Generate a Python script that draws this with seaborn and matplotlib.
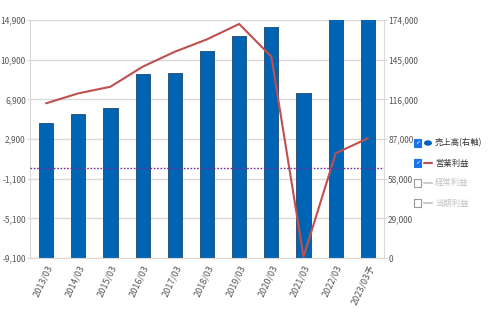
import matplotlib
matplotlib.use("Agg")
import matplotlib.pyplot as plt
import seaborn as sns
import numpy as np
import pandas as pd
from matplotlib.patches import Rectangle, Circle
from matplotlib.lines import Line2D

categories = ["2013/03", "2014/03", "2015/03", "2016/03", "2017/03", "2018/03",
              "2019/03", "2020/03", "2021/03", "2022/03", "2023/03予"]
sales = [98900, 105000, 109900, 134300, 135500, 151300, 162500, 168600, 120900, 176000, 176000]
op_profit = [6500, 7500, 8170, 10190, 11700, 12950, 14500, 11200, -8970, 1460, 2970]
left_ticks = [-9100, -5100, -1100, 2900, 6900, 10900, 14900]
right_ticks = [0, 29000, 58000, 87000, 116000, 145000, 174000]
legend_labels = ["売上高(右軸)", "営業利益", "経常利益", "当期利益"]

sns.set_style("white")
plt.rcParams['font.family'] = ['Noto Sans CJK JP', 'DejaVu Sans']
narrow = ['Liberation Sans Narrow', 'Noto Sans CJK JP', 'DejaVu Sans']

df = pd.DataFrame({"cat": categories, "sales": sales, "op": op_profit})

fig = plt.figure(figsize=(4.9, 3.36), dpi=100)
ax = fig.add_axes([30/490, 1-258/336, (384-30)/490, (258-20)/336])

bar_color = "#0064B4"
line_color = "#C0504D"
tick_color = "#555555"
grid_color = "#d9d9d9"

sns.barplot(data=df, x="cat", y="sales", ax=ax, color=bar_color, width=0.44,
            edgecolor="#23466e", linewidth=0.6, saturation=1, zorder=2)
ax.set_ylim(0, 174000)
ax.set_xlim(-0.5, len(categories) - 0.5)
ax.set_xlabel("")
ax.set_ylabel("")
for y in right_ticks:
    ax.axhline(y, color=grid_color, lw=1.0, zorder=1)

ax2 = ax.twinx()
sns.pointplot(data=df, x="cat", y="op", ax=ax2, color=line_color, markers="",
              linewidth=1.5, errorbar=None)
ax2.set_ylim(-9100, 14900)
ax2.set_xlim(-0.5, len(categories) - 0.5)
ax2.set_xlabel("")
ax2.set_ylabel("")
ax2.axhline(0, color="#7030A0", lw=1.0, ls=(0, (1.2, 1.2)), zorder=3)

# tick placement after twinx (twinx resets primary to left)
ax.yaxis.tick_right()
ax.set_yticks(right_ticks)
ax.set_yticklabels([f"{v:,}" for v in right_ticks], family=narrow)
ax2.yaxis.tick_left()
ax2.set_yticks(left_ticks)
ax2.set_yticklabels([f"{v:,}" for v in left_ticks], family=narrow)

for a in (ax, ax2):
    for s in a.spines.values():
        s.set_visible(False)
    a.tick_params(axis="y", length=2, color=grid_color, labelsize=6,
                  labelcolor=tick_color, pad=1)
ax.tick_params(axis="y", left=False, labelleft=False, right=True, labelright=True)
ax2.tick_params(axis="y", right=False, labelright=False, left=True, labelleft=True)

ax.spines["left"].set_visible(True)
ax.spines["left"].set_color(grid_color)
ax.spines["right"].set_visible(True)
ax.spines["right"].set_color(grid_color)
ax.spines["bottom"].set_visible(True)
ax.spines["bottom"].set_color(grid_color)

ax.set_xticks(range(len(categories)))
ax.set_xticklabels(categories, rotation=65, ha="right", rotation_mode="anchor",
                   fontsize=6.5, color=tick_color, style="italic", family=narrow)
ax.tick_params(axis="x", length=0, pad=4)
ax2.tick_params(axis="x", length=0, labelbottom=False)

# legend
xs_box = 414 / 490
ys = [143, 163, 183, 203]
for i, (lab, y) in enumerate(zip(legend_labels, ys)):
    yc = 1 - y / 336
    checked = i < 2
    bw, bh = 7 / 490, 8 / 336
    fig.patches.append(Rectangle((xs_box, yc - bh / 2), bw, bh, transform=fig.transFigure,
                                 facecolor="#1a73e8" if checked else "white",
                                 edgecolor="#1a73e8" if checked else "#999999", lw=0.8))
    if checked:
        fig.text(xs_box + bw / 2, yc, "✓", ha="center", va="center", fontsize=4.5,
                 color="white", family=["DejaVu Sans"], fontweight="bold")
    if i == 0:
        fig.patches.append(Circle((428 / 490, yc), 4 / 490, transform=fig.transFigure,
                                  facecolor=bar_color, edgecolor="none"))
    else:
        lc = line_color if checked else "#cccccc"
        fig.lines.append(Line2D([424 / 490, 432 / 490], [yc, yc], transform=fig.transFigure,
                                color=lc, lw=1.5))
    fig.text(435 / 490, yc, lab, ha="left", va="center", fontsize=6,
             color="#333333" if checked else "#c0c0c0")

fig.savefig("out.png", dpi=100)
